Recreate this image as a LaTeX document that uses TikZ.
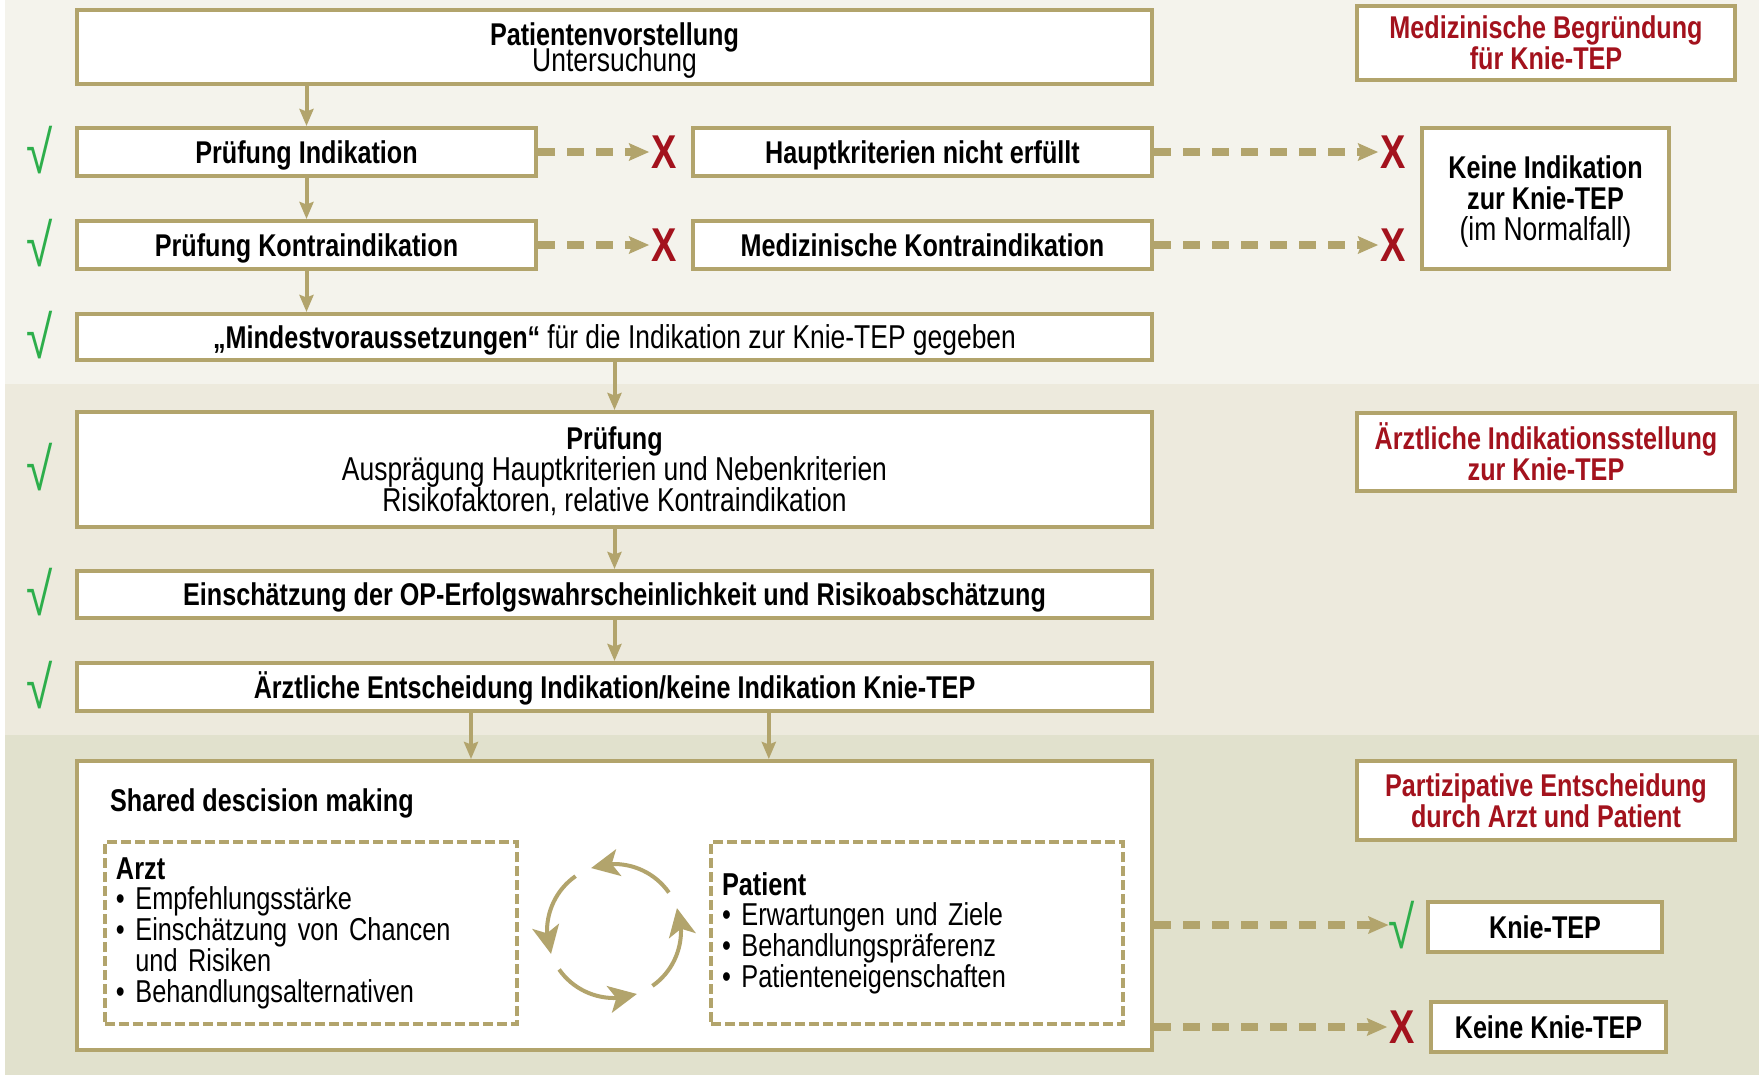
\documentclass[tikz,border=0pt]{standalone}
\usepackage{fontspec}
\setmainfont{Liberation Sans}[FakeStretch=0.8]
\usepackage{tikz}
\usetikzlibrary{arrows.meta,positioning,bending,calc}

\definecolor{khaki}{HTML}{B2A46C}
\definecolor{darkred}{HTML}{A3121D}
\definecolor{okgreen}{HTML}{2DAE4B}
\definecolor{bandtop}{HTML}{F4F3EC}
\definecolor{bandmid}{HTML}{EDEADD}
\definecolor{bandbot}{HTML}{E1E1CD}

\newcommand\flowsize{\fontsize{17.9}{17.6}\selectfont}
\newcommand\regsize{\fontsize{18.8}{17.6}\selectfont}
\newcommand\listsize{\fontsize{18}{17.5}\selectfont}

\begin{document}
\begin{tikzpicture}[
    x=0.2mm,
    y=-0.2mm,
    >={Stealth[length=3.4mm,width=2.8mm,inset=0.5mm]},
    stepbox/.style={
        draw=khaki,
        line width=0.8mm,
        fill=white,
        inner sep=2pt,
        align=center,
        font=\bfseries\flowsize
    },
    oneline/.style={
        text height=16pt,
        text depth=3.2pt
    },
    redhead/.style={
        stepbox,
        text=darkred,
        minimum width=75.6mm
    },
    listbox/.style={
        draw=khaki,
        line width=0.7mm,
        dash pattern=on 2mm off 0.8mm,
        minimum width=82.4mm,
        minimum height=36.4mm,
        text width=78mm,
        align=left,
        font=\listsize
    },
    flow/.style={
        ->,
        draw=khaki,
        line width=0.8mm
    },
    dashflow/.style={
        -{Stealth[length=4mm,width=3.4mm,inset=0.6mm]},
        draw=khaki,
        line width=1.5mm,
        dash pattern=on 3.4mm off 2.4mm
    },
    cycarrow/.style={
        -{Stealth[length=5.6mm,width=5.4mm,inset=1.4mm,flex]},
        draw=khaki,
        line width=0.8mm
    },
    checkmk/.style={
        text=okgreen,
        font=\fontsize{34}{34}\selectfont,
        inner sep=0pt
    },
    xmk/.style={
        text=darkred,
        font=\bfseries\fontsize{27}{27}\selectfont,
        inner sep=1pt
    }
]

\useasboundingbox (0,0) rectangle (1759,1075);

% ============================================================
% Background bands
% ============================================================
\fill[bandtop] (5,0)   rectangle (1759,384);
\fill[bandmid] (5,384) rectangle (1759,735);
\fill[bandbot] (5,735) rectangle (1759,1075);

% ============================================================
% Part 1: medical reasons
% ============================================================
\node[stepbox, text depth=0pt, minimum width=215mm, minimum height=14.8mm] (pv) at (614.5,47)
    {Patientenvorstellung\\[-2.5pt]{\mdseries\regsize Untersuchung}};

\node[stepbox, oneline, minimum width=91.8mm, minimum height=9.6mm] (pind) at (306.5,152)
    {Prüfung Indikation};
\node[stepbox, oneline, minimum width=91.8mm, minimum height=9.6mm] (hkne) at (922.5,152)
    {Hauptkriterien nicht erfüllt};

\node[stepbox, oneline, minimum width=91.8mm, minimum height=9.6mm] (pkontra) at (306.5,245)
    {Prüfung Kontraindikation};
\node[stepbox, oneline, minimum width=91.8mm, minimum height=9.6mm] (medkontra) at (922.5,245)
    {Medizinische Kontraindikation};

\node[stepbox, oneline, minimum width=215mm, minimum height=9.2mm] (mind) at (614.5,337)
    {„Mindestvoraussetzungen“ {\mdseries\regsize für die Indikation zur Knie-TEP gegeben}};

\node[stepbox, text depth=0pt, minimum width=49.4mm, minimum height=28.2mm] (keineind) at (1545.5,198.5)
    {Keine Indikation\\zur Knie-TEP\\{\mdseries\regsize (im Normalfall)}};

\node[redhead, minimum height=14.8mm] (medbeg) at (1546,43)
    {Medizinische Begründung\\für Knie-TEP};

% marks
\node[xmk] (xa) at (664,152) {X};
\node[xmk] (xb) at (664,245) {X};
\node[xmk] (xc) at (1393,152) {X};
\node[xmk] (xd) at (1393,245) {X};

\node[checkmk] (ca) at (40,150) {√};
\node[checkmk] (cb) at (40,243) {√};
\node[checkmk] (cc) at (40,335) {√};

\draw[flow] (pind.north |- pv.south) -- (pind.north);
\draw[flow] (pind) -- (pkontra);
\draw[flow] (pkontra.south) -- (pkontra.south |- mind.north);

\draw[dashflow] (pind) -- (xa);
\draw[dashflow] (pkontra) -- (xb);
\draw[dashflow] (hkne) -- (xc);
\draw[dashflow] (medkontra) -- (xd);

% ============================================================
% Part 2: indication by the physician
% ============================================================
\node[stepbox, text depth=0pt, minimum width=215mm, minimum height=23mm] (pruef) at (614.5,469.5)
    {Prüfung\\{\mdseries\regsize Ausprägung Hauptkriterien und Nebenkriterien}\\
     {\mdseries\regsize Risikofaktoren, relative Kontraindikation}};

\node[stepbox, oneline, minimum width=215mm, minimum height=9.4mm] (einsch) at (614.5,594.5)
    {Einschätzung der OP-Erfolgswahrscheinlichkeit und Risikoabschätzung};

\node[stepbox, oneline, minimum width=215mm, minimum height=9.6mm] (entsch) at (614.5,687)
    {Ärztliche Entscheidung Indikation/keine Indikation Knie-TEP};

\node[redhead, minimum height=15.6mm] (aerztind) at (1546,452)
    {Ärztliche Indikationsstellung\\zur Knie-TEP};

\node[checkmk] (cd) at (40,467) {√};
\node[checkmk] (ce) at (40,592) {√};
\node[checkmk] (cf) at (40,685) {√};

\draw[flow] (mind) -- (pruef);
\draw[flow] (pruef) -- (einsch);
\draw[flow] (einsch) -- (entsch);

% ============================================================
% Part 3: shared decision
% ============================================================
\node[stepbox, minimum width=215mm, minimum height=57.8mm] (sdm) at (614.5,905.5) {};
\node[anchor=west, font=\bfseries\flowsize] (sdmtitle) at (104,803)
    {Shared descision making};

\node[listbox] (arzt) at (311,933)
    {{\bfseries Arzt}\\
     \textbullet\ Empfehlungsstärke\\
     \textbullet\ Einschätzung von Chancen\\
     \phantom{\textbullet\ }und Risiken\\
     \textbullet\ Behandlungsalternativen};

\node[listbox] (patient) at (917,933)
    {{\bfseries Patient}\\
     \textbullet\ Erwartungen und Ziele\\
     \textbullet\ Behandlungspräferenz\\
     \textbullet\ Patienteneigenschaften};

% exchange cycle
\coordinate (cyc) at (614,931);
\foreach \a in {35,125,215,305}
    \draw[cycarrow] ($(cyc)+(\a:13.4mm)$) arc[start angle=\a, end angle=\a+75, radius=13.4mm];

\node[redhead, minimum height=15.8mm] (partiz) at (1546,800.5)
    {Partizipative Entscheidung\\durch Arzt und Patient};

\node[stepbox, oneline, minimum width=46.8mm, minimum height=10mm] (knietep) at (1545,927)
    {Knie-TEP};
\node[stepbox, oneline, minimum width=47mm, minimum height=10mm] (keineknie) at (1548.5,1027)
    {Keine Knie-TEP};

\node[checkmk] (cg) at (1402,925) {√};
\node[xmk] (xe) at (1402,1027) {X};

\draw[flow] ($(entsch.south west)!0.367!(entsch.south east)$)
    -- ($(sdm.north west)!0.367!(sdm.north east)$);
\draw[flow] ($(entsch.south west)!0.643!(entsch.south east)$)
    -- ($(sdm.north west)!0.643!(sdm.north east)$);

\draw[dashflow] (sdm.east |- cg) -- (cg);
\draw[dashflow] (sdm.east |- xe) -- (xe);

\end{tikzpicture}
\end{document}
